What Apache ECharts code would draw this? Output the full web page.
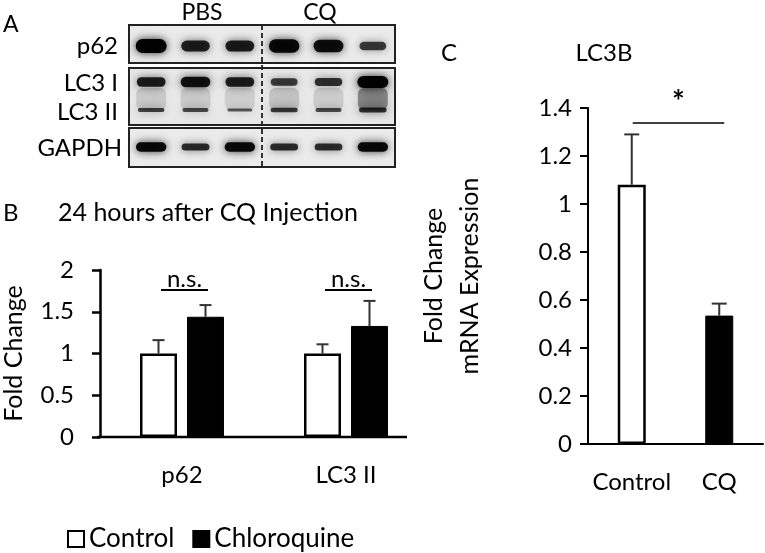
<!DOCTYPE html>
<html>
<head>
<meta charset="utf-8">
<script src="https://cdn.jsdelivr.net/npm/echarts@6/dist/echarts.min.js"></script>
<style>
  html, body { margin: 0; padding: 0; background: #fff; }
  #chart { width: 765px; height: 553px; }
</style>
</head>
<body>
<div id="chart"></div>
<script>
// panel A: band intensity per lane (3 PBS, 3 CQ)
const lanes = ["PBS", "PBS", "PBS", "CQ", "CQ", "CQ"];
const p62Band = [1.0, 0.78, 0.8, 0.95, 0.9, 0.62];
const lc3iBand = [0.8, 0.88, 0.8, 0.62, 0.68, 1.0];
const lc3iiBand = [0.6, 0.55, 0.45, 0.65, 0.55, 0.7];
const gapdhBand = [0.95, 0.72, 0.95, 0.72, 0.7, 0.95];
const lc3Smear = [0.12, 0.12, 0.1, 0.15, 0.11, 0.38];

// panel B
const categoriesB = ["p62", "LC3 II"];
const controlB = [1.0, 1.0];
const controlErrB = [0.16, 0.11];
const cqB = [1.44, 1.33];
const cqErrB = [0.14, 0.3];
const sigB = ["n.s.", "n.s."];
const sigLevelB = 1.76;

// panel C
const categoriesC = ["Control", "CQ"];
const meanC = [1.08, 0.535];
const errC = [0.21, 0.05];
const sigC = "*";
const sigLevelC = 1.337;

const FONT = "Lato, 'Open Sans', sans-serif";
const rowPos = [21, 57, 85, 122];
const rowThick = [14, 12, 7, 10];

let bandData = [];
[p62Band, lc3iBand, lc3iiBand, gapdhBand].forEach((arr, r) => {
  arr.forEach((v, l) => bandData.push([l, r, v]));
});
let smearData = lc3Smear.map((v, l) => [l, v]);

function renderBand(params, api) {
  let lane = api.value(0), row = api.value(1), k = api.value(2);
  let c = api.coord([lane + 0.5, rowPos[row]]);
  let w = 20 + 11 * k;
  let h = Math.max(3, rowThick[row] * k);
  return {
    type: "rect",
    shape: { x: c[0] - w / 2, y: c[1] - h / 2, width: w, height: h, r: h / 2 },
    style: {
      fill: "rgba(0,0,0," + (0.3 + 0.68 * k) + ")",
      shadowBlur: 9,
      shadowColor: "rgba(0,0,0," + (0.85 * k) + ")",
    },
  };
}

function renderSmear(params, api) {
  let lane = api.value(0), k = api.value(1);
  let a = api.coord([lane + 0.5, rowPos[1] + 6]);
  let b = api.coord([lane + 0.5, rowPos[2]]);
  let w = 30;
  return {
    type: "rect",
    shape: { x: a[0] - w / 2, y: a[1], width: w, height: b[1] - a[1], r: 6 },
    style: { fill: "rgba(0,0,0," + k + ")", shadowBlur: 14, shadowColor: "rgba(0,0,0," + k + ")" },
  };
}

function errRenderer(offset, cap) {
  return function (params, api) {
    let top = api.coord([api.value(0), api.value(1) + api.value(2)]);
    let base = api.coord([api.value(0), api.value(1)]);
    let x = top[0] + offset;
    let st = { stroke: "#333", lineWidth: 2 };
    return {
      type: "group",
      children: [
        { type: "line", shape: { x1: x, y1: base[1], x2: x, y2: top[1] }, style: st },
        { type: "line", shape: { x1: x - cap / 2, y1: top[1], x2: x + cap / 2, y2: top[1] }, style: st },
      ],
    };
  };
}

function sigRenderer(x1off, x2off, label) {
  return function (params, api) {
    let p = api.coord([api.value(0), api.value(1)]);
    let a = x1off, b = x2off;
    if (label === null) {
      // span between two categories
      let q = api.coord([api.value(2), api.value(1)]);
      return {
        type: "group",
        children: [
          { type: "line", shape: { x1: p[0] + a, y1: p[1], x2: q[0] + b, y2: p[1] }, style: { stroke: "#000", lineWidth: 1.5 } },
          { type: "text", x: (p[0] + a + q[0] + b) / 2, y: p[1] - 21, style: { text: sigC, font: "bold 30px " + FONT, fill: "#000", align: "center", verticalAlign: "middle" } },
        ],
      };
    }
    return {
      type: "group",
      children: [
        { type: "line", shape: { x1: p[0] + a, y1: p[1], x2: p[0] + b, y2: p[1] }, style: { stroke: "#000", lineWidth: 2 } },
        { type: "text", x: p[0] + (a + b) / 2, y: p[1] + 1, style: { text: sigB[params.dataIndex], font: "24px " + FONT, fill: "#000", align: "center", verticalAlign: "bottom" } },
      ],
    };
  };
}

function txt(text, x, y, size, align) {
  return {
    type: "text",
    x: x,
    y: y,
    style: { text: text, font: size + "px " + FONT, fill: "#000", align: align || "left", verticalAlign: "middle" },
  };
}

const axisText = { color: "#000", fontSize: 24, fontFamily: FONT };

let chart = echarts.init(document.getElementById("chart"));
let option = {
  animation: false,
  backgroundColor: "#fff",
  textStyle: { fontFamily: FONT },
  grid: [
    { left: 129, top: 25, width: 266, height: 142 },
    { left: 98, top: 270, width: 330, height: 167 },
    { left: 588, top: 108, width: 175, height: 336 },
  ],
  legend: {
    data: ["Control", "Chloroquine"],
    left: 67,
    top: 526,
    padding: 0,
    icon: "rect",
    itemWidth: 16,
    itemHeight: 16,
    itemGap: 18,
    selectedMode: false,
    textStyle: { color: "#000", fontSize: 26, fontFamily: FONT },
  },
  xAxis: [
    { gridIndex: 0, type: "value", min: 0, max: 6, show: false },
    {
      gridIndex: 1,
      type: "category",
      data: categoriesB,
      axisLine: { show: false },
      axisTick: { show: false },
      axisLabel: Object.assign({ margin: 26, interval: 0 }, axisText),
    },
    {
      gridIndex: 2,
      type: "category",
      data: categoriesC,
      axisLine: { lineStyle: { color: "#000", width: 2 } },
      axisTick: { show: false },
      axisLabel: Object.assign({ margin: 26, interval: 0 }, axisText),
    },
  ],
  yAxis: [
    { gridIndex: 0, type: "value", min: 0, max: 142, inverse: true, show: false },
    {
      gridIndex: 1,
      type: "value",
      min: 0,
      max: 2,
      interval: 0.5,
      name: "Fold Change",
      nameLocation: "middle",
      nameGap: 74,
      nameTextStyle: { color: "#000", fontSize: 25, fontFamily: FONT },
      axisLine: { show: true, lineStyle: { color: "#000", width: 2.5 } },
      axisTick: { show: true, length: 8, lineStyle: { color: "#000", width: 2.5 } },
      axisLabel: Object.assign({ margin: 26 }, axisText),
      splitLine: { show: false },
    },
    {
      gridIndex: 2,
      type: "value",
      min: 0,
      max: 1.4,
      interval: 0.2,
      name: "Fold Change\nmRNA Expression",
      nameLocation: "middle",
      nameGap: 100,
      nameTextStyle: { color: "#000", fontSize: 25, lineHeight: 36, fontFamily: FONT },
      axisLine: { show: true, lineStyle: { color: "#000", width: 2 } },
      axisTick: { show: true, length: 8, lineStyle: { color: "#000", width: 2 } },
      axisLabel: Object.assign({ margin: 16 }, axisText),
      splitLine: { show: false },
    },
  ],
  graphic: [
    // blot boxes
    { type: "rect", shape: { x: 129, y: 25, width: 266, height: 38 }, style: { fill: "#ebebeb" }, z: -10 },
    { type: "rect", shape: { x: 129, y: 68, width: 266, height: 57 }, style: { fill: "#e8e8e8" }, z: -10 },
    { type: "rect", shape: { x: 129, y: 128, width: 266, height: 39 }, style: { fill: "#ebebeb" }, z: -10 },
    { type: "rect", shape: { x: 129, y: 25, width: 266, height: 38 }, style: { fill: null, stroke: "#222", lineWidth: 2 }, z: 100 },
    { type: "rect", shape: { x: 129, y: 68, width: 266, height: 57 }, style: { fill: null, stroke: "#222", lineWidth: 2 }, z: 100 },
    { type: "rect", shape: { x: 129, y: 128, width: 266, height: 39 }, style: { fill: null, stroke: "#222", lineWidth: 2 }, z: 100 },
    // x axis of panel B
    { type: "line", shape: { x1: 97, y1: 437, x2: 407, y2: 437 }, style: { stroke: "#000", lineWidth: 2.5 }, z: 100 },
    txt("A", 3, 25, 23),
    txt("PBS", 202, 13, 23, "center"),
    txt("CQ", 320, 13, 23, "center"),
    txt("p62", 118, 46, 24, "right"),
    txt("LC3 I", 118, 83, 24, "right"),
    txt("LC3 II", 118, 112, 24, "right"),
    txt("GAPDH", 122, 148, 24, "right"),
    txt("B", 3, 213, 24),
    txt("24 hours after CQ Injection", 58, 213, 25),
    txt("C", 441, 53, 24),
    txt("LC3B", 604, 53, 24, "center"),
  ],
  series: [
    {
      name: "smear",
      type: "custom",
      xAxisIndex: 0,
      yAxisIndex: 0,
      data: smearData,
      renderItem: renderSmear,
      z: 1,
    },
    {
      name: "bands",
      type: "custom",
      xAxisIndex: 0,
      yAxisIndex: 0,
      data: bandData,
      renderItem: renderBand,
      z: 2,
      markLine: {
        silent: true,
        symbol: "none",
        label: { show: false },
        lineStyle: { color: "#333", width: 2, type: [5, 3] },
        data: [{ xAxis: 3 }],
      },
    },
    {
      name: "Control",
      type: "bar",
      xAxisIndex: 1,
      yAxisIndex: 1,
      data: controlB,
      barWidth: 37,
      barGap: "27%",
      itemStyle: { color: "#fff", borderColor: "#000", borderWidth: 2.5 },
    },
    {
      name: "Chloroquine",
      type: "bar",
      xAxisIndex: 1,
      yAxisIndex: 1,
      data: cqB,
      barWidth: 37,
      barGap: "27%",
      itemStyle: { color: "#000", borderColor: "#000", borderWidth: 1 },
    },
    {
      name: "errControlB",
      type: "custom",
      xAxisIndex: 1,
      yAxisIndex: 1,
      data: controlB.map((v, i) => [i, v, controlErrB[i]]),
      renderItem: errRenderer(-23.5, 12),
      z: 5,
    },
    {
      name: "errCqB",
      type: "custom",
      xAxisIndex: 1,
      yAxisIndex: 1,
      data: cqB.map((v, i) => [i, v, cqErrB[i]]),
      renderItem: errRenderer(23.5, 12),
      z: 5,
    },
    {
      name: "sigB",
      type: "custom",
      xAxisIndex: 1,
      yAxisIndex: 1,
      data: sigB.map((s, i) => [i, sigLevelB]),
      renderItem: sigRenderer(-21, 26, "ns"),
      z: 5,
    },
    {
      name: "LC3B",
      type: "bar",
      xAxisIndex: 2,
      yAxisIndex: 2,
      barWidth: 28,
      data: meanC.map((v, i) => ({
        value: v,
        itemStyle: i === 0
          ? { color: "#fff", borderColor: "#000", borderWidth: 2.5 }
          : { color: "#000", borderColor: "#000", borderWidth: 1 },
      })),
    },
    {
      name: "errC",
      type: "custom",
      xAxisIndex: 2,
      yAxisIndex: 2,
      data: meanC.map((v, i) => [i, v, errC[i]]),
      renderItem: errRenderer(0, 15),
      z: 5,
    },
    {
      name: "sigC",
      type: "custom",
      xAxisIndex: 2,
      yAxisIndex: 2,
      data: [[0, sigLevelC, 1]],
      renderItem: sigRenderer(1, 5, null),
      z: 5,
    },
  ],
};
chart.setOption(option);
</script>
</body>
</html>
